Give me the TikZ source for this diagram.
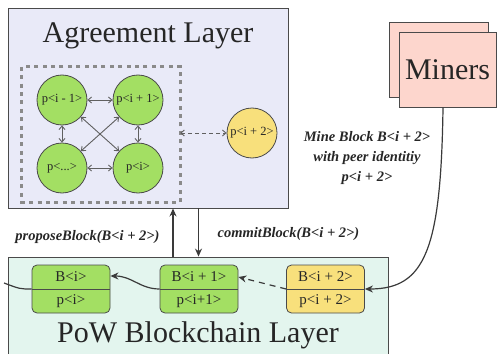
\documentclass[tikz,border=0pt]{standalone}
\usepackage{fontspec}
\setmainfont{Liberation Serif}
\usetikzlibrary{arrows.meta}
\definecolor{lav}{HTML}{E9EAF8}
\definecolor{mint}{HTML}{E3F5EE}
\definecolor{pgreen}{HTML}{A3DF63}
\definecolor{pyellow}{HTML}{F8E07C}
\definecolor{ppink}{HTML}{FDD6CD}
\definecolor{bordc}{HTML}{4A4A4A}
\definecolor{linec}{HTML}{3A3A3A}
\definecolor{peerc}{HTML}{606060}
\definecolor{dashc}{HTML}{8A8A8A}
\begin{document}
\begin{tikzpicture}[x=1pt,y=-1pt,
  layer/.style={draw=bordc, line width=0.9pt, inner sep=0pt},
  titletxt/.style={font=\fontsize{30}{34}\selectfont, text=black!85, anchor=base, inner sep=0pt},
  circ/.style={circle, draw=bordc, line width=0.8pt, minimum size=50pt, inner sep=0pt, font=\fontsize{12.5}{14}\selectfont, text=black!85},
  blk/.style={draw=bordc, rounded corners=5pt, minimum width=78pt, minimum height=48pt, line width=0.8pt, inner sep=0pt},
  blktxt/.style={font=\fontsize{15}{17}\selectfont, text=black!85, inner sep=0pt},
  peer/.style={draw=peerc, line width=0.9pt, {Straight Barb[length=3.5pt,width=6pt]}-{Straight Barb[length=3.5pt,width=6pt]}},
  dbox/.style={draw=dashc, line width=3pt, dash pattern=on 4pt off 4.4pt},
  lbl/.style={font=\bfseries\itshape\fontsize{14.5}{20}\selectfont, text=black!85, align=center, inner sep=0pt},
  conn/.style={draw=linec, line width=1.2pt, -{Stealth[length=8pt,width=7pt]}},
  mine/.style={draw=bordc, fill=ppink, line width=0.9pt, inner sep=0pt}
]
\useasboundingbox (0,0) rectangle (497,353);

% Agreement layer
\node[layer, fill=lav, minimum width=280pt, minimum height=200pt] (ag) at (148,108) {};
\node[titletxt] (agt) at (148,42) {Agreement Layer};
\node[inner sep=0pt, minimum width=158pt, minimum height=135pt] (grp) at (101,134.5) {};
\draw[dbox] (grp.north west) rectangle (grp.south east);
\node[circ, fill=pgreen] (c1) at (62,100) {p<i - 1>};
\node[circ, fill=pgreen] (c2) at (138,100) {p<i + 1>};
\node[circ, fill=pgreen] (c3) at (62,168) {p<...>};
\node[circ, fill=pgreen] (c4) at (138,168) {p<i>};
\node[circ, fill=pyellow] (c5) at (252,133) {p<i + 2>};
\draw[peer] (c1) -- (c2);
\draw[peer] (c3) -- (c4);
\draw[peer] (c1) -- (c3);
\draw[peer] (c2) -- (c4);
\draw[peer] (c1) -- (c4);
\draw[peer] (c2) -- (c3);
\draw[peer, dash pattern=on 4pt off 3pt] (c5 -| grp.east) -- (c5);

% Miners
\node[mine, minimum width=99pt, minimum height=75pt] (m0) at (438.5,59.5) {};
\node[mine, minimum width=97pt, minimum height=75pt, font=\fontsize{30}{34}\selectfont, text=black!85] (m1) at (447.5,69.5) {Miners};

% PoW layer
\node[layer, fill=mint, minimum width=380pt, minimum height=110pt] (pow) at (198,312) {};
\node[titletxt] (powt) at (198,342) {PoW Blockchain Layer};

% Blocks
\node[blk, fill=pgreen] (b0) at (71,289) {};
\node[blk, fill=pgreen] (b1) at (199,289) {};
\node[blk, fill=pyellow] (b2) at (325.5,289) {};
\draw[draw=bordc, line width=0.8pt] (b0.west) -- (b0.east);
\draw[draw=bordc, line width=0.8pt] (b1.west) -- (b1.east);
\draw[draw=bordc, line width=0.8pt] (b2.west) -- (b2.east);
\node[blktxt] (b0t) at (71,277) {B<i>};
\node[blktxt] (b0b) at (71,301) {p<i>};
\node[blktxt] (b1t) at (199,277) {B<i + 1>};
\node[blktxt] (b1b) at (199,301) {p<i+1>};
\node[blktxt] (b2t) at (325.5,277) {B<i + 2>};
\node[blktxt] (b2b) at (325.5,301) {p<i + 2>};

% chain connectors
\coordinate (lft) at (4,283);
\draw[draw=linec, line width=1.2pt] (b0.west) .. controls (20,289) .. (lft);
\draw[conn] (b1.west) .. controls (140,289) and (132,276) .. ([yshift=13pt]b0.east);
\draw[conn, dash pattern=on 6pt off 5pt] (b2.west) -- ([yshift=12pt]b1.east);

% layer connectors
\coordinate (pu) at (173,0);
\coordinate (pd) at (198.5,0);
\draw[conn] (pow.north -| pu) -- (ag.south -| pu);
\draw[conn] (ag.south -| pd) -- (pow.north -| pd);
\node[lbl] (lp) at (87.5,237) {proposeBlock(B<i + 2>)};
\node[lbl] (lc) at (288.5,234) {commitBlock(B<i + 2>)};

% mining connector
\coordinate (mx) at (443,0);
\draw[conn] (m1.south -| mx) .. controls (441,250) and (425,289) .. (b2.east);
\node[lbl] (lm) at (367,158) {Mine Block B<i + 2>\\with peer identitiy\\p<i + 2>};
\end{tikzpicture}
\end{document}
